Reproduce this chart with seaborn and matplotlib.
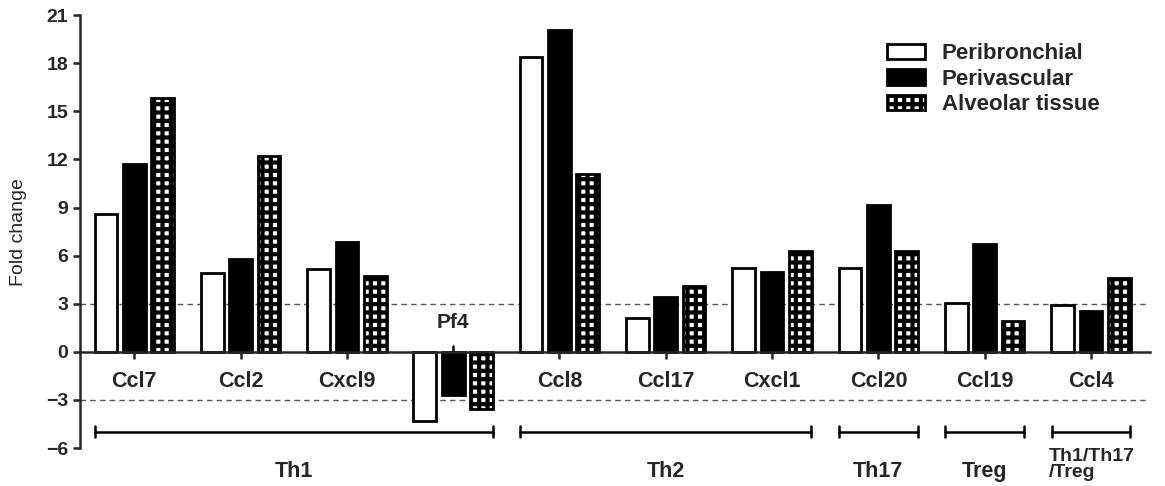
import pandas as pd
import matplotlib
matplotlib.use("Agg")
import matplotlib.pyplot as plt
import seaborn as sns

# values
genes = ["Ccl7", "Ccl2", "Cxcl9", "Pf4", "Ccl8", "Ccl17", "Cxcl1", "Ccl20", "Ccl19", "Ccl4"]
peribronchial = [8.6, 4.9, 5.15, -4.3, 18.4, 2.1, 5.2, 5.2, 3.05, 2.95]
perivascular = [11.7, 5.8, 6.85, -2.7, 20.1, 3.45, 5.0, 9.15, 6.7, 2.55]
alveolar = [15.85, 12.2, 4.7, -3.55, 11.1, 4.1, 6.3, 6.3, 1.9, 4.6]
regions = ["Peribronchial", "Perivascular", "Alveolar tissue"]

groups = ["Th1", "Th2", "Th17", "Treg", "Th1/Th17\n/Treg"]
group_start = [0, 4, 7, 8, 9]
group_end = [3, 6, 7, 8, 9]

df = pd.DataFrame({"gene": genes * 3,
                   "fold": peribronchial + perivascular + alveolar,
                   "region": sum([[r] * len(genes) for r in regions], [])})

sns.set_style("ticks")
plt.rcParams["font.family"] = ["Liberation Sans", "DejaVu Sans"]
plt.rcParams["hatch.linewidth"] = 3.0

fig = plt.figure(figsize=(11.65, 4.86), dpi=100)
ax = fig.add_axes([0.0687, 0.078, 0.918, 0.891])

sns.barplot(data=df, x="gene", y="fold", hue="region", order=genes, hue_order=regions,
            palette=["white", "black", "white"], width=0.8, gap=0.2,
            edgecolor="black", linewidth=2, errorbar=None, legend=False, ax=ax)

for p in ax.containers[2]:
    p.set_hatch("++")

ax.set_xlim(-0.51, 9.55)
ax.set_ylim(-6, 21)
ax.set_yticks(range(-6, 22, 3))
ax.set_ylabel("Fold change", fontsize=14)
ax.yaxis.set_label_coords(-0.05, 0.5)
ax.set_xlabel("")

ax.spines["right"].set_visible(False)
ax.spines["top"].set_visible(False)
ax.spines["bottom"].set_position(("data", 0))
ax.spines["bottom"].set_linewidth(1.8)
ax.spines["left"].set_linewidth(1.8)
ax.tick_params(axis="both", width=1.8, length=5)
ax.tick_params(axis="y", labelsize=14)
ax.tick_params(axis="x", pad=9, labelsize=15.5)
for lab in ax.get_yticklabels():
    lab.set_fontweight("bold")

xlabels = [g if g != "Pf4" else "" for g in genes]
ax.set_xticks(range(len(genes)))
ax.set_xticklabels(xlabels, fontweight="bold")
pf = genes.index("Pf4")
ax.text(pf, 1.85, "Pf4", ha="center", va="center", fontsize=15, fontweight="bold")
ax.plot([pf, pf], [0, 0.35], color="black", lw=1.8)

for yv in (3, -3):
    ax.axhline(yv, color="#555555", lw=1, ls=(0, (4, 3)), zorder=0)

# group brackets
for g, s, e in zip(groups, group_start, group_end):
    x0, x1 = s - 0.37, e + 0.37
    yb = -4.98
    ax.plot([x0, x1], [yb, yb], color="black", lw=1.8, clip_on=False)
    ax.plot([x0, x0], [yb - 0.35, yb + 0.35], color="black", lw=1.8, clip_on=False)
    ax.plot([x1, x1], [yb - 0.35, yb + 0.35], color="black", lw=1.8, clip_on=False)
    if "\n" in g:
        ax.text(x0 - 0.03, -6.0, g, ha="left", va="top", fontsize=14,
                fontweight="bold", clip_on=False, linespacing=0.92)
    else:
        ax.text((x0 + x1) / 2, -7.45, g, ha="center", va="center", fontsize=15.5,
                fontweight="bold", clip_on=False)

handles = [c[0] for c in ax.containers]
leg = ax.legend(handles, regions, loc="upper left", bbox_to_anchor=(0.755, 0.935),
                frameon=False, fontsize=16, handlelength=1.7, handleheight=0.68,
                handletextpad=0.75, labelspacing=0.2, borderaxespad=0, borderpad=0)
for t in leg.get_texts():
    t.set_fontweight("bold")

fig.savefig("out.png", dpi=100)
